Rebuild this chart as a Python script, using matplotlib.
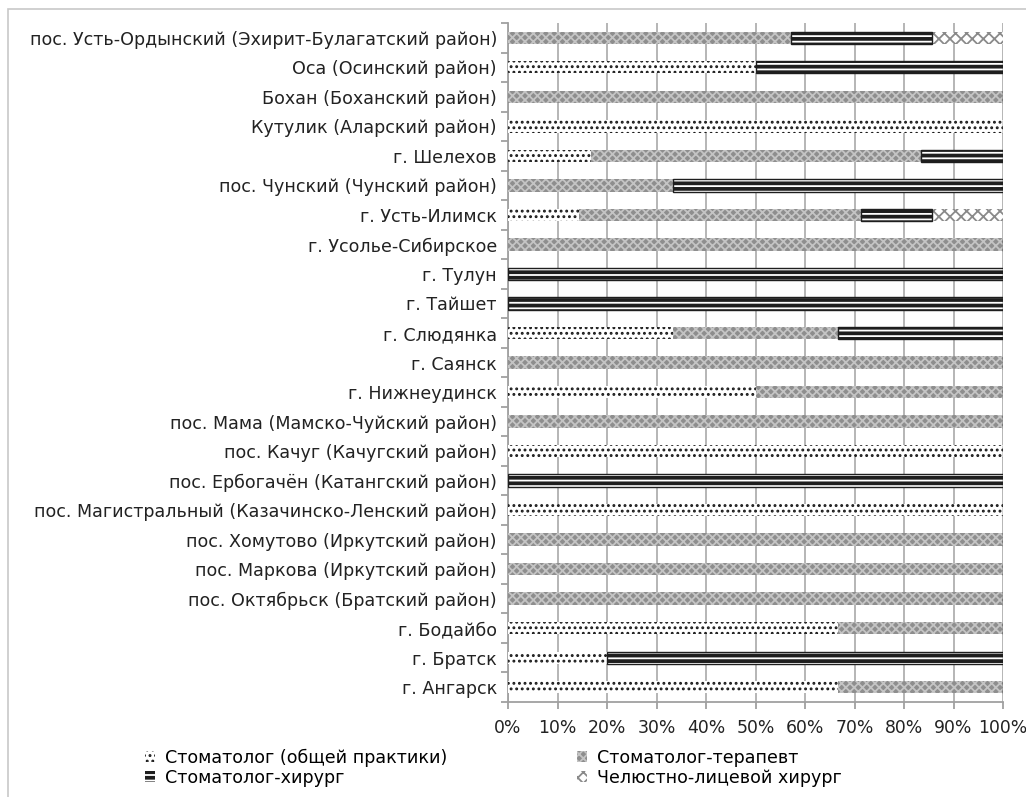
import matplotlib
matplotlib.use("Agg")
import matplotlib.pyplot as plt
from matplotlib.patches import Rectangle
import numpy as np

plt.rcParams['font.family'] = ['DejaVu Sans']
plt.rcParams['hatch.linewidth'] = 1.3

# категории снизу вверх (как в Excel)
places = [
    "г. Ангарск",
    "г. Братск",
    "г. Бодайбо",
    "пос. Октябрьск (Братский район)",
    "пос. Маркова (Иркутский район)",
    "пос. Хомутово (Иркутский район)",
    "пос. Магистральный (Казачинско-Ленский район)",
    "пос. Ербогачён (Катангский район)",
    "пос. Качуг (Качугский район)",
    "пос. Мама (Мамско-Чуйский район)",
    "г. Нижнеудинск",
    "г. Саянск",
    "г. Слюдянка",
    "г. Тайшет",
    "г. Тулун",
    "г. Усолье-Сибирское",
    "г. Усть-Илимск",
    "пос. Чунский (Чунский район)",
    "г. Шелехов",
    "Кутулик (Аларский район)",
    "Бохан (Боханский район)",
    "Оса (Осинский район)",
    "пос. Усть-Ордынский (Эхирит-Булагатский район)",
]

# доли специалистов, %
general = [66.7, 20, 66.7, 0, 0, 0, 100, 0, 100, 0, 50, 0, 33.3, 0, 0, 0, 14.3, 0, 16.7, 100, 0, 50, 0]
therapist = [33.3, 0, 33.3, 100, 100, 100, 0, 0, 0, 100, 50, 100, 33.3, 0, 0, 100, 57.1, 33.3, 66.7, 0, 100, 0, 57.1]
surgeon = [0, 80, 0, 0, 0, 0, 0, 100, 0, 0, 0, 0, 33.3, 100, 100, 0, 14.3, 66.7, 16.7, 0, 0, 50, 28.6]
maxillofacial = [0, 0, 0, 0, 0, 0, 0, 0, 0, 0, 0, 0, 0, 0, 0, 0, 14.3, 0, 0, 0, 0, 0, 14.3]

series_names = ["Стоматолог (общей практики)", "Стоматолог-терапевт",
                "Стоматолог-хирург", "Челюстно-лицевой хирург"]
# (заливка, цвет штриховки, штриховка)
styles = [
    ("white", "#1a1a1a", "..."),
    ("#8e8e8e", "#c4c4c4", "xxxx"),
    ("#1e1e1e", "white", "---"),
    ("white", "#8a8a8a", "xxx"),
]

fig = plt.figure(figsize=(10.26, 7.97), dpi=100)
ax = fig.add_axes([508 / 1026, 1 - 702 / 797, (1003 - 508) / 1026, (702 - 23) / 797])

# рамка диаграммы
fig.patches.append(Rectangle((8 / 1026, -0.05), 1.1, 1 - 9 / 797 + 0.05,
                             transform=fig.transFigure, fill=False,
                             edgecolor="#c8c8c8", linewidth=1.2, zorder=0))

y = np.arange(len(places))
left = np.zeros(len(places))
handles = []
for i, (vals, name, (fc, hc, hatch)) in enumerate(zip([general, therapist, surgeon, maxillofacial],
                                                       series_names, styles)):
    vals = np.array(vals)
    bars = ax.barh(y, vals, left=left, height=0.42, color=fc, edgecolor=hc,
                   hatch=hatch, linewidth=0, label=name, zorder=3)
    if i == 2:
        # тёмный контур у хирургов
        ax.barh(y, vals, left=left, height=0.42, fill=False, edgecolor="#1e1e1e",
                linewidth=1.0, zorder=4)
    left += vals
    handles.append(bars)

ax.set_xlim(0, 100)
ax.set_ylim(-0.5, len(places) - 0.5)
ax.set_xticks(np.arange(0, 101, 10))
ax.set_xticklabels([f"{v}%" for v in range(0, 101, 10)])
ax.set_yticks(y)
ax.set_yticklabels(places)
ax.set_yticks(np.arange(-0.5, len(places), 1), minor=True)
ax.tick_params(axis="y", which="major", length=0, labelsize=12.6, pad=8, labelcolor="#222222")
ax.tick_params(axis="y", which="minor", length=5, color="#a0a0a0", width=1.3)
ax.tick_params(axis="x", length=5, color="#a0a0a0", width=1.3, labelsize=12.4,
               labelcolor="#222222", pad=7)
ax.xaxis.grid(True, color="#b0b0b0", linewidth=1.3, zorder=0)
ax.set_axisbelow(True)
for s in ["top", "right"]:
    ax.spines[s].set_visible(False)
for s in ["left", "bottom"]:
    ax.spines[s].set_color("#a0a0a0")
    ax.spines[s].set_linewidth(1.3)

# Excel заполняет легенду по строкам
order = [0, 2, 1, 3]
fig.legend(handles=[handles[k] for k in order], labels=[series_names[k] for k in order],
           loc="upper left", ncol=2,
           bbox_to_anchor=(136 / 1026, 1 - 740 / 797), frameon=False,
           fontsize=12.6, handlelength=0.6, handleheight=0.6, handletextpad=0.55,
           columnspacing=7.4, labelspacing=0.12, borderpad=0)

fig.savefig("out.png", dpi=100)
